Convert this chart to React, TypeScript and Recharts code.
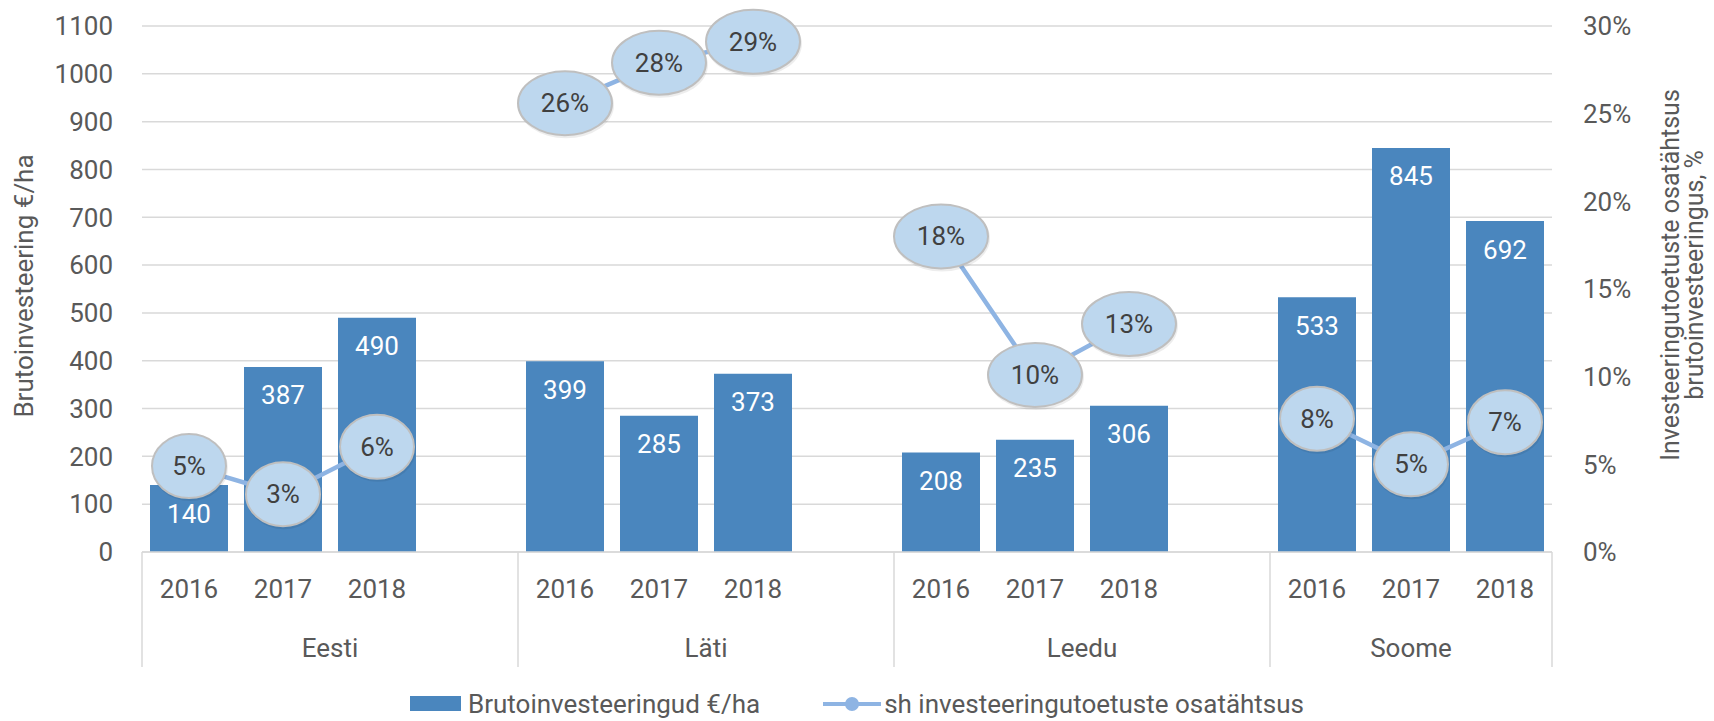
import React from 'react';
import { ComposedChart, Bar, Line, XAxis, YAxis, CartesianGrid, Legend, LabelList } from 'recharts';

const countries = ['Eesti', 'Läti', 'Leedu', 'Soome'];
const years = ['2016', '2017', '2018'];

// Brutoinvesteeringud €/ha (2016, 2017, 2018)
const investEesti = [140, 387, 490];
const investLati = [399, 285, 373];
const investLeedu = [208, 235, 306];
const investSoome = [533, 845, 692];

// sh investeeringutoetuste osatähtsus, %
const shareEesti = [4.9, 3.3, 6.0];
const shareLati = [25.6, 27.9, 29.1];
const shareLeedu = [18.0, 10.1, 13.0];
const shareSoome = [7.6, 5.0, 7.4];

const leftTicks = [0, 100, 200, 300, 400, 500, 600, 700, 800, 900, 1000, 1100];
const rightTicks = [0, 5, 10, 15, 20, 25, 30];

const investByCountry = [investEesti, investLati, investLeedu, investSoome];
const shareByCountry = [shareEesti, shareLati, shareLeedu, shareSoome];

type Row = { key: string; year: string; country: string; invest: number | null; share: number | null };

// one slot per year, plus an empty slot between countries
const rows: Row[] = [];
countries.forEach((country, ci) => {
    years.forEach((year, yi) => {
        rows.push({
            key: `${country}-${year}`,
            year,
            country,
            invest: investByCountry[ci][yi],
            share: shareByCountry[ci][yi],
        });
    });
    if (ci < countries.length - 1) {
        rows.push({ key: `${country}-gap`, year: '', country, invest: null, share: null });
    }
});

const FONT = 'Roboto, "Noto Sans", sans-serif';
const TEXT = '#595959';
const BAR = '#4A86BE';
const LINE = '#8EB4E3';
const GRID = '#D9D9D9';

// year labels, group separators and country names under the axis
const CategoryTick = (props: any) => {
    const { x, y, payload } = props;
    const row = rows.find(r => r.key === payload.value);
    if (!row) return null;
    const half = payload.offset || 47;
    const group = rows.filter(r => r.country === row.country);
    const first = group[0] === row;
    const last = rows[rows.length - 1] === row;
    return (
        <g fontFamily={FONT} fontSize={26} fill={TEXT}>
            {row.year && (
                <text x={x} y={y + 46} textAnchor="middle">{row.year}</text>
            )}
            {first && <line x1={x - half} y1={y} x2={x - half} y2={y + 115} stroke={GRID} strokeWidth={1.5} />}
            {first && (
                <text x={x - half + group.length * half} y={y + 105} textAnchor="middle">{row.country}</text>
            )}
            {last && <line x1={x + half} y1={y} x2={x + half} y2={y + 115} stroke={GRID} strokeWidth={1.5} />}
        </g>
    );
};

// oval data callouts on the share line
const ShareLabel = (props: any) => {
    const { x, y, value } = props;
    if (value == null || x == null || y == null) return null;
    const text = `${Math.round(value)}%`;
    const rx = text.length > 2 ? 47 : 37;
    return (
        <g>
            <ellipse cx={x + 1} cy={y + 2} rx={rx + 1} ry={33} fill="#000" opacity={0.07} />
            <ellipse cx={x} cy={y} rx={rx} ry={32} fill="#BDD7EE" stroke="#BFBFBF" strokeWidth={2} />
            <text x={x} y={y} textAnchor="middle" dominantBaseline="central" fontFamily={FONT} fontSize={26} fill="#404040">
                {text}
            </text>
        </g>
    );
};

const LeftTitle = (props: any) => {
    const vb = props.viewBox || { x: 0, y: 26, width: 142, height: 526 };
    const cx = vb.x + 24;
    const cy = vb.y + vb.height / 2 - 3;
    return (
        <text x={cx} y={cy} transform={`rotate(-90 ${cx} ${cy})`} textAnchor="middle" dominantBaseline="central"
            fontFamily={FONT} fontSize={26} fill={TEXT}>
            Brutoinvesteering €/ha
        </text>
    );
};

const RightTitle = (props: any) => {
    const vb = props.viewBox || { x: 1552, y: 26, width: 162, height: 526 };
    const cy = vb.y + vb.height / 2 - 14;
    const x1 = vb.x + 118;
    const x2 = vb.x + 142;
    return (
        <g fontFamily={FONT} fontSize={25} fill={TEXT}>
            <text x={x1} y={cy} transform={`rotate(-90 ${x1} ${cy})`} textAnchor="middle" dominantBaseline="central">
                Investeeringutoetuste osatähtsus
            </text>
            <text x={x2} y={cy} transform={`rotate(-90 ${x2} ${cy})`} textAnchor="middle" dominantBaseline="central">
                brutoinvesteeringus, %
            </text>
        </g>
    );
};

const LegendContent = () => (
    <div style={{
        display: 'flex', justifyContent: 'center', alignItems: 'center', height: 49,
        fontFamily: FONT, fontSize: 26, color: TEXT, paddingTop: 14, boxSizing: 'border-box',
    }}>
        <span style={{ display: 'inline-block', width: 51, height: 15, background: BAR, marginRight: 7 }} />
        <span>Brutoinvesteeringud €/ha</span>
        <svg width={58} height={18} style={{ marginLeft: 63, marginRight: 3 }}>
            <line x1={0} y1={9} x2={58} y2={9} stroke={LINE} strokeWidth={4} />
            <circle cx={29} cy={9} r={7} fill={LINE} />
        </svg>
        <span>sh investeeringutoetuste osatähtsus</span>
    </div>
);

const App: React.FC = () => {
    return (
        <div style={{ width: 1714, height: 721, background: '#fff', fontFamily: FONT }}>
            <style>{'body { margin: 0; }'}</style>
            <ComposedChart width={1714} height={721} data={rows} margin={{ top: 26, right: 0, left: 0, bottom: 0 }}>
                <CartesianGrid yAxisId="left" vertical={false} stroke={GRID} strokeWidth={1.5} />
                <XAxis
                    dataKey="key"
                    interval={0}
                    height={120}
                    tickSize={0}
                    tickMargin={0}
                    tickLine={false}
                    axisLine={{ stroke: GRID, strokeWidth: 1.5 }}
                    tick={<CategoryTick />}
                />
                <YAxis
                    yAxisId="left"
                    width={142}
                    domain={[0, 1100]}
                    ticks={leftTicks}
                    interval={0}
                    axisLine={false}
                    tickLine={false}
                    tickSize={0}
                    tickMargin={29}
                    tick={{ fill: TEXT, fontSize: 26, fontFamily: FONT }}
                    label={{ content: (p: any) => <LeftTitle {...p} /> }}
                />
                <YAxis
                    yAxisId="right"
                    orientation="right"
                    width={162}
                    domain={[0, 30]}
                    ticks={rightTicks}
                    interval={0}
                    axisLine={false}
                    tickLine={false}
                    tickSize={0}
                    tickMargin={31}
                    tickFormatter={(v: number) => `${v}%`}
                    tick={{ fill: TEXT, fontSize: 26, fontFamily: FONT }}
                    label={{ content: (p: any) => <RightTitle {...p} /> }}
                />
                <Legend verticalAlign="bottom" height={49} content={<LegendContent />} />
                <Bar yAxisId="left" dataKey="invest" fill={BAR} barSize={78} isAnimationActive={false}>
                    <LabelList dataKey="invest" position="insideTop" offset={19} fill="#fff" fontSize={26} fontFamily={FONT} />
                </Bar>
                <Line
                    yAxisId="right"
                    type="linear"
                    dataKey="share"
                    stroke={LINE}
                    strokeWidth={4.5}
                    dot={false}
                    activeDot={false}
                    isAnimationActive={false}
                >
                    <LabelList dataKey="share" content={<ShareLabel />} />
                </Line>
            </ComposedChart>
        </div>
    );
};

export default App;
